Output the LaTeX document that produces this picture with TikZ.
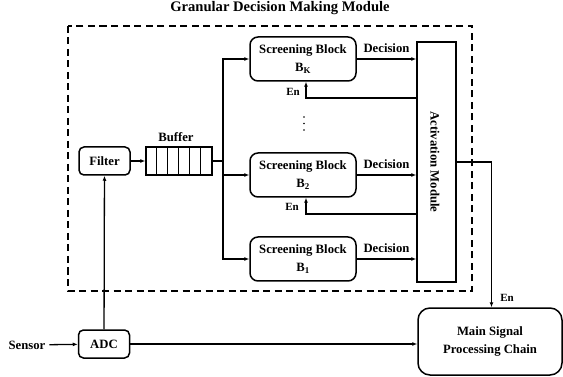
\documentclass[tikz,border=0pt]{standalone}
\usepackage{fontspec}
\setmainfont{Liberation Serif}
\usetikzlibrary{arrows.meta,positioning}

\begin{document}
\begin{tikzpicture}[
x=1pt,y=-1pt,
font=\fontsize{12.7}{18}\selectfont\bfseries,
line width=1.3pt,
blk/.style={draw, rounded corners=8pt, line width=1.5pt, align=center,
  minimum width=106pt, minimum height=44pt, inner sep=0pt},
smallblk/.style={draw, rounded corners=5pt, line width=1.5pt,
  minimum width=51pt, minimum height=28pt, inner sep=0pt},
arr/.style={-{Latex[length=5pt,width=4pt]}},
]
\useasboundingbox (0,0) rectangle (563,377);

% title and module frame
\node[anchor=base, inner sep=0pt] (title) at (280,11.5) {\fontsize{14.6}{17}\selectfont Granular Decision Making Module};
\draw[line width=1.5pt, dash pattern=on 7pt off 4.5pt] (68,26) rectangle (472,291);

% front end
\node[smallblk] (filt) at (104.5,161) {Filter};
\node[draw, line width=1.5pt, minimum width=66pt, minimum height=28pt, inner sep=0pt] (buf) at (179,161) {};
\foreach \i in {1,...,5}
  \draw[line width=1.5pt] ([xshift=\i*11pt]buf.north west) -- ([xshift=\i*11pt]buf.south west);
\node (buflbl) at (176,137) {Buffer};

% screening blocks
\node[blk] (bk) at (303,59) {Screening Block\\B\textsubscript{K}};
\node[blk] (b2) at (303,175) {Screening Block\\B\textsubscript{2}};
\node[blk] (b1) at (303,259) {Screening Block\\B\textsubscript{1}};
\foreach \y in {117,123.5,130}
  \fill (304,\y) circle (0.8);

\node[draw, line width=1.5pt, minimum width=39pt, minimum height=240pt] (act) at (436.5,162) {};
\node[rotate=-90] (actlbl) at (435,162) {Activation Module};

% main chain
\node[draw, rounded corners=12pt, line width=1.5pt, align=center,
  minimum width=144pt, minimum height=67pt] (main) at (490,341.5) {Main Signal\\Processing Chain};
\node[smallblk] (adc) at (104,344) {ADC};
\node (sensor) at (27,345) {Sensor};

% connections
\coordinate (fan) at (223,161);
\draw[arr] (filt) -- (buf);
\draw (buf.east) -- (fan);
\draw[arr] (fan) |- (bk.west);
\draw[arr] (fan) |- (b2.west);
\draw[arr] (fan) |- (b1.west);

\draw[arr] (bk.east) -- (bk.east -| act.west) node[midway, above=2pt] (deck) {Decision};
\draw[arr] (b2.east) -- (b2.east -| act.west) node[midway, above=2pt] (dec2) {Decision};
\draw[arr] (b1.east) -- (b1.east -| act.west) node[midway, above=2pt] (dec1) {Decision};

\draw[arr] (act.west |- 0,98) -| ([xshift=3pt]bk.south);
\node (enk) at (293,92) {\fontsize{11}{13}\selectfont En};
\draw[arr] (act.west |- 0,214) -| ([xshift=3pt]b2.south);
\node (en2) at (292,207) {\fontsize{11}{13}\selectfont En};

\draw[arr] (act.east) -| ([xshift=1.5pt]main.north);
\node (enm) at (507,298) {\fontsize{11}{13}\selectfont En};

\draw[arr] (sensor) -- (adc);
\draw[arr] (adc) -- (filt);
\draw[arr] (adc.east) -- (adc.east -| main.west);
\end{tikzpicture}
\end{document}
